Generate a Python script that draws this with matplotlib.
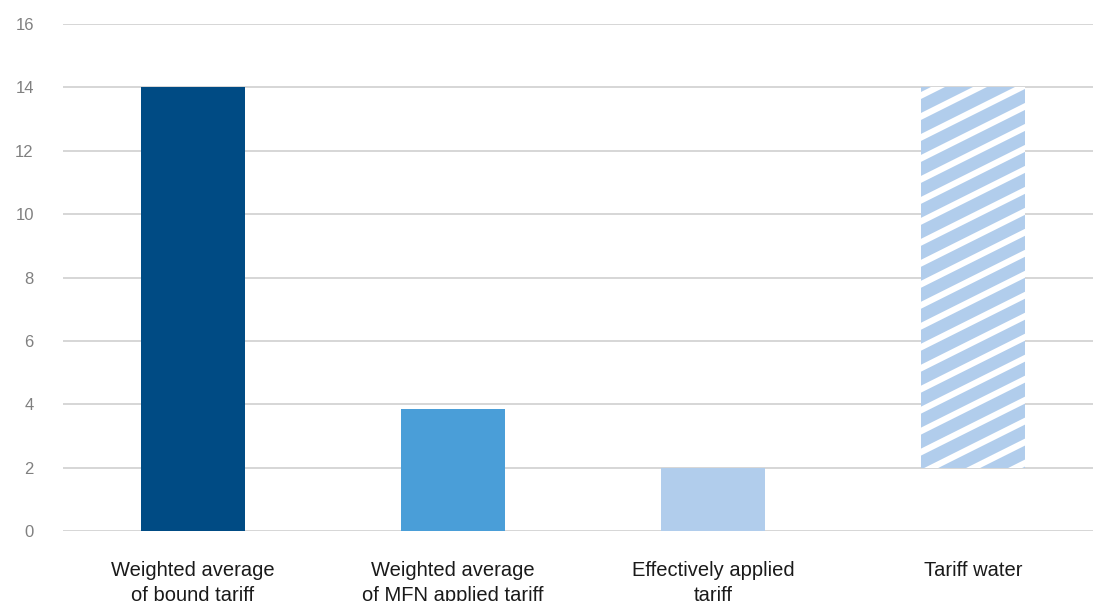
import numpy as np
import matplotlib.pyplot as plt

plt.rcParams['font.family'] = ['Liberation Sans', 'DejaVu Sans']

categories = ["Weighted average\nof bound tariff",
              "Weighted average\nof MFN applied tariff",
              "Effectively applied\ntariff",
              "Tariff water"]
bound_tariff = 14.0
mfn_applied = 3.85
effective_applied = 2.0
tariff_water = bound_tariff - effective_applied

values = [bound_tariff, mfn_applied, effective_applied, tariff_water]
bottoms = [0, 0, 0, effective_applied]
colors = ["#004b84", "#4a9ed8", "#b1cdec", "#b1cdec"]
yticks = [0, 2, 4, 6, 8, 10, 12, 14, 16]

fig = plt.figure(figsize=(10.93, 6.01), dpi=100)
ax = fig.add_axes([63 / 1093, 1 - 531 / 601, 1040 / 1093, (531 - 24) / 601])

x = np.arange(len(categories))
bars = ax.bar(x, values, bottom=bottoms, width=0.4, color=colors, zorder=3,
              linewidth=0)

ax.set_xlim(-0.5, 3.5)
ax.set_ylim(0, 16)
ax.set_yticks(yticks)
ax.set_xticks(x)
ax.set_xticklabels(categories, fontsize=14.5, color="#1a1a1a", linespacing=1.4)
ax.tick_params(axis='x', length=0, pad=21.5)
ax.tick_params(axis='y', length=0, pad=21, labelsize=12, labelcolor="#808080")
ax.grid(axis='y', color="#d6d6d6", linewidth=1.4, zorder=0)
for s in ax.spines.values():
    s.set_visible(False)

# White diagonal stripes over the tariff-water bar
water = bars[3]
slope = 4.1
step = 0.662
xc = water.get_x() + water.get_width() / 2
xs = np.array([water.get_x() - 0.05, water.get_x() + water.get_width() + 0.05])
for b in np.arange(effective_applied - 2.0, bound_tariff + 2.0, step):
    ln, = ax.plot(xs, b + slope * (xs - xc), color="white", linewidth=4.5,
                  solid_capstyle='butt', zorder=4)
    ln.set_clip_path(water)

fig.savefig("out.png", dpi=100)
